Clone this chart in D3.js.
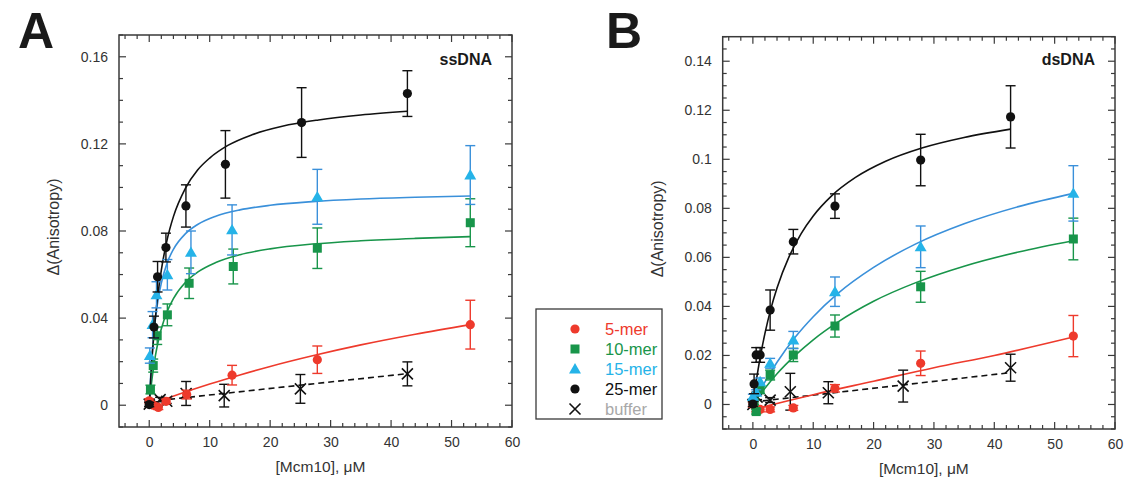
<!DOCTYPE html>
<html>
<head>
<meta charset="utf-8">
<script src="https://cdn.jsdelivr.net/npm/d3@7/dist/d3.min.js"></script>
<style>
  html, body { margin: 0; padding: 0; background: #fff; }
  svg { display: block; font-family: "Liberation Sans", Arial, sans-serif; }
</style>
</head>
<body>
<svg id="chart" width="1125" height="492"></svg>
<script>
// ---------- Panel A: ssDNA ----------
const ssX5   = [0, 0.66, 1.5, 2.8, 6.2, 13.7, 27.8, 53.1];
const ssY5   = [0.002, 0.0, -0.001, 0.0018, 0.0049, 0.0138, 0.0209, 0.037];
const ssE5   = [0.001, 0.001, 0.001, 0.001, 0.002, 0.0045, 0.0063, 0.0112];
const ssX10  = [0.2, 0.66, 1.32, 3.0, 6.6, 13.9, 27.8, 53.1];
const ssY10  = [0.0072, 0.0182, 0.0319, 0.0415, 0.056, 0.0637, 0.0721, 0.0838];
const ssE10  = [0.002, 0.003, 0.004, 0.005, 0.007, 0.008, 0.0093, 0.011];
const ssX15  = [0.1, 0.55, 1.2, 3.0, 6.9, 13.7, 27.8, 53.1];
const ssY15  = [0.0228, 0.037, 0.0507, 0.0599, 0.0702, 0.0805, 0.0957, 0.1057];
const ssE15  = [0.0035, 0.006, 0.006, 0.007, 0.0098, 0.0115, 0.0126, 0.0135];
const ssX25  = [0, 0.78, 1.38, 2.76, 6.07, 12.6, 25.2, 42.7];
const ssY25  = [0.0003, 0.0359, 0.059, 0.0724, 0.0915, 0.1106, 0.1298, 0.1431];
const ssE25  = [0.001, 0.005, 0.007, 0.0066, 0.0097, 0.0155, 0.016, 0.0105];
const ssXBuf = [0, 1.8, 2.9, 6.1, 12.4, 25.0, 42.7];
const ssYBuf = [0.0005, 0.0026, 0.0018, 0.0054, 0.0044, 0.0075, 0.0144];
const ssEBuf = [0.001, 0.001, 0.001, 0.0055, 0.0052, 0.0066, 0.0055];

// binding-curve fits (ssDNA)
const ssFitX25 = [0, 0.25, 0.5, 1, 1.5, 2, 3, 4, 6, 8, 10, 13, 17, 22, 28, 35, 42.7];
const ssFitY25 = [0, 0.0125, 0.0230, 0.0396, 0.0522, 0.0620, 0.0765, 0.0866, 0.0997, 0.1080, 0.1135, 0.1193, 0.1242, 0.1281, 0.1310, 0.1333, 0.1350];
const ssFitX   = [0, 0.25, 0.5, 1, 1.5, 2, 3, 4, 6, 8, 11, 15, 20, 27, 35, 44, 53.1];
const ssFitY15 = [0, 0.0140, 0.0245, 0.0392, 0.0491, 0.0561, 0.0656, 0.0716, 0.0788, 0.0830, 0.0868, 0.0897, 0.0918, 0.0935, 0.0947, 0.0955, 0.0961];
const ssFitY10 = [0, 0.0070, 0.0130, 0.0224, 0.0295, 0.0351, 0.0433, 0.0490, 0.0565, 0.0611, 0.0655, 0.0691, 0.0718, 0.0740, 0.0755, 0.0766, 0.0774];
const ssFitX5  = [0, 2, 5, 10, 15, 20, 27, 35, 44, 53.1];
const ssFitY5  = [0, 0.0021, 0.0051, 0.0097, 0.0139, 0.0178, 0.0227, 0.0277, 0.0326, 0.0370];
const ssFitXBuf = [0, 42.7];
const ssFitYBuf = [0.0017, 0.0145];

// ---------- Panel B: dsDNA ----------
const dsX5   = [0, 0.55, 1.2, 2.86, 6.7, 13.6, 27.8, 53.1];
const dsY5   = [0.0, -0.002, -0.002, -0.002, -0.0014, 0.0066, 0.0168, 0.0279];
const dsE5   = [0.001, 0.001, 0.001, 0.001, 0.001, 0.0015, 0.005, 0.0084];
const dsX10  = [0.2, 0.55, 1.2, 2.86, 6.7, 13.6, 27.8, 53.1];
const dsY10  = [0.001, -0.0029, 0.006, 0.012, 0.0202, 0.032, 0.048, 0.0675];
const dsE10  = [0.001, 0.001, 0.0015, 0.002, 0.0027, 0.0045, 0.0063, 0.0085];
const dsX15  = [0, 0.55, 1.2, 2.86, 6.7, 13.6, 27.8, 53.1];
const dsY15  = [0.0032, 0.005, 0.0093, 0.0168, 0.0263, 0.046, 0.0643, 0.0861];
const dsE15  = [0.001, 0.001, 0.0015, 0.002, 0.0035, 0.006, 0.0085, 0.0113];
const dsX25  = [0, 0.2, 0.55, 1.2, 2.86, 6.7, 13.6, 27.8, 42.7];
const dsY25  = [0.0002, 0.0084, 0.0202, 0.0202, 0.0385, 0.0664, 0.0809, 0.0997, 0.1173];
const dsE25  = [0.001, 0.004, 0.003, 0.003, 0.0082, 0.005, 0.005, 0.0105, 0.0127];
const dsXBuf = [0, 0.7, 2.86, 6.2, 12.5, 24.9, 42.7];
const dsYBuf = [0, 0.003, 0.0018, 0.0052, 0.0048, 0.0075, 0.015];
const dsEBuf = [0.001, 0.001, 0.001, 0.0075, 0.0045, 0.0065, 0.0055];

// binding-curve fits (dsDNA)
const dsFitX25 = [0, 0.5, 1, 2, 3, 4, 6, 8, 10, 13, 17, 22, 28, 35, 42.7];
const dsFitY25 = [0, 0.0087, 0.0163, 0.0290, 0.0392, 0.0475, 0.0603, 0.0697, 0.0769, 0.0850, 0.0926, 0.0992, 0.1046, 0.1089, 0.1123];
const dsFitX   = [0, 1, 2, 4, 7, 10, 14, 20, 27, 35, 44, 53.1];
const dsFitY15 = [0, 0.0048, 0.0092, 0.0172, 0.0274, 0.0358, 0.0451, 0.0559, 0.0655, 0.0737, 0.0807, 0.0861];
const dsFitY10 = [0, 0.0034, 0.0066, 0.0125, 0.0200, 0.0264, 0.0335, 0.0421, 0.0497, 0.0564, 0.0622, 0.0668];
const dsFitX5  = [0, 5, 10, 20, 30, 40, 53.1];
const dsFitY5  = [-0.002, 0.001, 0.004, 0.0095, 0.015, 0.0200, 0.0275];
const dsFitXBuf = [0, 42.7];
const dsFitYBuf = [0.001, 0.013];

// ---------- axes / labels ----------
const xTicks = [0, 10, 20, 30, 40, 50, 60];
const ssYTicks = [0, 0.04, 0.08, 0.12, 0.16];
const dsYTicks = [0, 0.02, 0.04, 0.06, 0.08, 0.1, 0.12, 0.14];
const legendLabels = ["5-mer", "10-mer", "15-mer", "25-mer", "buffer"];
const xLabel = "[Mcm10], \u03bcM";
const yLabel = "\u0394(Anisotropy)";

const C = {
  red: "#ee3a2c", green: "#18954a", cyan: "#25b3e8", blue: "#3a90da",
  black: "#111111", grey: "#a8a8a8", axis: "#3a3a3a", text: "#333333"
};

const svg = d3.select("#chart");
const zip = (xs, ys, es) => xs.map((x, i) => ({x, y: ys[i], e: es ? es[i] : 0}));

function drawPanel(cfg) {
  const g = svg.append("g");
  const x = d3.scaleLinear().domain([-5, 60]).range([cfg.left, cfg.right]);
  const y = d3.scaleLinear().domain(cfg.yDomain).range([cfg.bottom, cfg.top]);

  // frame
  g.append("rect")
    .attr("x", cfg.left).attr("y", cfg.top)
    .attr("width", cfg.right - cfg.left).attr("height", cfg.bottom - cfg.top)
    .attr("fill", "none").attr("stroke", C.axis).attr("stroke-width", 1.5);

  // inward ticks on all four sides
  const xMinor = d3.range(-4, 60.01, 2);
  const yMinor = d3.range(cfg.yDomain[0], cfg.yDomain[1] + 1e-9, cfg.yMinorStep);
  const isMajX = v => Math.abs(v / 10 - Math.round(v / 10)) < 1e-6;
  const isMajY = v => Math.abs(v / cfg.yMajorStep - Math.round(v / cfg.yMajorStep)) < 1e-6;
  const tk = g.append("g").attr("stroke", C.axis).attr("stroke-width", 1.2);
  xMinor.forEach(v => {
    const L = isMajX(v) ? 7 : 4;
    tk.append("line").attr("x1", x(v)).attr("x2", x(v)).attr("y1", cfg.bottom).attr("y2", cfg.bottom - L);
    tk.append("line").attr("x1", x(v)).attr("x2", x(v)).attr("y1", cfg.top).attr("y2", cfg.top + L);
  });
  yMinor.forEach(v => {
    if (y(v) < cfg.top - 0.5 || y(v) > cfg.bottom + 0.5) return;
    const L = isMajY(v) ? 7 : 4;
    tk.append("line").attr("y1", y(v)).attr("y2", y(v)).attr("x1", cfg.left).attr("x2", cfg.left + L);
    tk.append("line").attr("y1", y(v)).attr("y2", y(v)).attr("x1", cfg.right).attr("x2", cfg.right - L);
  });

  // tick labels via d3 axes (tick lines hidden, frame drawn above)
  const xAxis = g.append("g").attr("transform", `translate(0,${cfg.bottom})`)
    .call(d3.axisBottom(x).tickValues(xTicks).tickSize(0).tickPadding(10).tickFormat(d3.format("d")));
  const yAxis = g.append("g").attr("transform", `translate(${cfg.left},0)`)
    .call(d3.axisLeft(y).tickValues(cfg.yTicks).tickSize(0).tickPadding(11).tickFormat(d => d === 0 ? "0" : String(+d.toFixed(2))));
  [xAxis, yAxis].forEach(a => {
    a.select(".domain").remove();
    a.selectAll("text").attr("fill", C.text).style("font-size", "14px")
      .style("font-family", "\"Liberation Sans\", Arial, sans-serif");
  });

  // axis titles
  g.append("text").attr("x", (cfg.left + cfg.right) / 2 + 5).attr("y", cfg.bottom + 45)
    .attr("text-anchor", "middle").attr("fill", C.text).style("font-size", "15.5px").text(xLabel);
  g.append("text")
    .attr("transform", `translate(${cfg.left - 60},${(cfg.top + cfg.bottom) / 2 - 4}) rotate(-90)`)
    .attr("text-anchor", "middle").attr("fill", C.text).style("font-size", "16px").text(yLabel);

  // panel letter and DNA tag
  g.append("text").attr("x", cfg.letterX).attr("y", 48).attr("fill", "#1a1a1a")
    .style("font-size", "50px").style("font-weight", "bold").text(cfg.letter);
  g.append("text").attr("x", cfg.right - 20).attr("y", 65).attr("text-anchor", "end")
    .attr("fill", "#1a1a1a").style("font-size", "16px").style("font-weight", "bold").text(cfg.tag);

  const line = d3.line().x(d => x(d.x)).y(d => y(d.y)).curve(d3.curveMonotoneX);

  // fitted curves
  cfg.fits.forEach(f => {
    g.append("path").datum(zip(f.xs, f.ys)).attr("d", line)
      .attr("fill", "none").attr("stroke", f.color).attr("stroke-width", 1.6)
      .attr("stroke-dasharray", f.dash || null);
  });

  // error bars and markers
  cfg.series.forEach(s => {
    const data = zip(s.xs, s.ys, s.es);
    const eb = g.append("g").attr("stroke", s.barColor).attr("stroke-width", 1.4);
    data.forEach(d => {
      const cx = x(d.x), y1 = y(d.y + d.e), y2 = y(d.y - d.e);
      eb.append("line").attr("x1", cx).attr("x2", cx).attr("y1", y1).attr("y2", y2);
      eb.append("line").attr("x1", cx - 5).attr("x2", cx + 5).attr("y1", y1).attr("y2", y1);
      eb.append("line").attr("x1", cx - 5).attr("x2", cx + 5).attr("y1", y2).attr("y2", y2);
    });
    drawMarkers(g, data.map(d => [x(d.x), y(d.y)]), s.shape, s.color);
  });
}

function drawMarkers(g, pts, shape, color) {
  pts.forEach(([px, py]) => drawMarker(g, px, py, shape, color));
}

function drawMarker(g, px, py, shape, color) {
  if (shape === "circle") {
    g.append("circle").attr("cx", px).attr("cy", py).attr("r", 4.6).attr("fill", color);
  } else if (shape === "square") {
    g.append("rect").attr("x", px - 4.5).attr("y", py - 4.5).attr("width", 9).attr("height", 9).attr("fill", color);
  } else if (shape === "triangle") {
    g.append("path").attr("transform", `translate(${px},${py + 1})`)
      .attr("d", d3.symbol().type(d3.symbolTriangle).size(62)()).attr("fill", color);
  } else if (shape === "cross") {
    g.append("path").attr("d", `M${px - 5.5},${py - 5.5}L${px + 5.5},${py + 5.5}M${px - 5.5},${py + 5.5}L${px + 5.5},${py - 5.5}`)
      .attr("stroke", color).attr("stroke-width", 1.6).attr("fill", "none");
  }
}

drawPanel({
  left: 119, right: 512, top: 35, bottom: 427,
  yDomain: [-0.01, 0.17], yTicks: ssYTicks, yMajorStep: 0.04, yMinorStep: 0.01,
  letter: "A", letterX: 18, tag: "ssDNA",
  fits: [
    {xs: ssFitXBuf, ys: ssFitYBuf, color: C.black, dash: "6,4"},
    {xs: ssFitX5,  ys: ssFitY5,  color: C.red},
    {xs: ssFitX,   ys: ssFitY10, color: C.green},
    {xs: ssFitX,   ys: ssFitY15, color: C.blue},
    {xs: ssFitX25, ys: ssFitY25, color: C.black}
  ],
  series: [
    {xs: ssXBuf, ys: ssYBuf, es: ssEBuf, shape: "cross",    color: C.black, barColor: C.black},
    {xs: ssX5,   ys: ssY5,   es: ssE5,   shape: "circle",   color: C.red,   barColor: C.red},
    {xs: ssX10,  ys: ssY10,  es: ssE10,  shape: "square",   color: C.green, barColor: C.green},
    {xs: ssX15,  ys: ssY15,  es: ssE15,  shape: "triangle", color: C.cyan,  barColor: C.blue},
    {xs: ssX25,  ys: ssY25,  es: ssE25,  shape: "circle",   color: C.black, barColor: C.black}
  ]
});

drawPanel({
  left: 722.7, right: 1115, top: 36.7, bottom: 429,
  yDomain: [-0.01, 0.15], yTicks: dsYTicks, yMajorStep: 0.02, yMinorStep: 0.005,
  letter: "B", letterX: 606, tag: "dsDNA",
  fits: [
    {xs: dsFitXBuf, ys: dsFitYBuf, color: C.black, dash: "6,4"},
    {xs: dsFitX5,  ys: dsFitY5,  color: C.red},
    {xs: dsFitX,   ys: dsFitY10, color: C.green},
    {xs: dsFitX,   ys: dsFitY15, color: C.blue},
    {xs: dsFitX25, ys: dsFitY25, color: C.black}
  ],
  series: [
    {xs: dsXBuf, ys: dsYBuf, es: dsEBuf, shape: "cross",    color: C.black, barColor: C.black},
    {xs: dsX5,   ys: dsY5,   es: dsE5,   shape: "circle",   color: C.red,   barColor: C.red},
    {xs: dsX10,  ys: dsY10,  es: dsE10,  shape: "square",   color: C.green, barColor: C.green},
    {xs: dsX15,  ys: dsY15,  es: dsE15,  shape: "triangle", color: C.cyan,  barColor: C.blue},
    {xs: dsX25,  ys: dsY25,  es: dsE25,  shape: "circle",   color: C.black, barColor: C.black}
  ]
});

// shared legend
const legend = svg.append("g");
legend.append("rect").attr("x", 536).attr("y", 309).attr("width", 126).attr("height", 110)
  .attr("fill", "#fff").attr("stroke", C.axis).attr("stroke-width", 1.3);
const legendShapes = ["circle", "square", "triangle", "circle", "cross"];
const legendColors = [C.red, C.green, C.cyan, C.black, C.black];
const legendTextColors = [C.red, C.green, C.cyan, C.black, C.grey];
const rowY = d3.scalePoint().domain(legendLabels).range([329, 409]);
legendLabels.forEach((lab, i) => {
  drawMarker(legend, 575, rowY(lab), legendShapes[i], legendColors[i]);
  legend.append("text").attr("x", 605).attr("y", rowY(lab) + 6)
    .attr("fill", legendTextColors[i]).style("font-size", "16.5px").text(lab);
});
</script>
</body>
</html>
